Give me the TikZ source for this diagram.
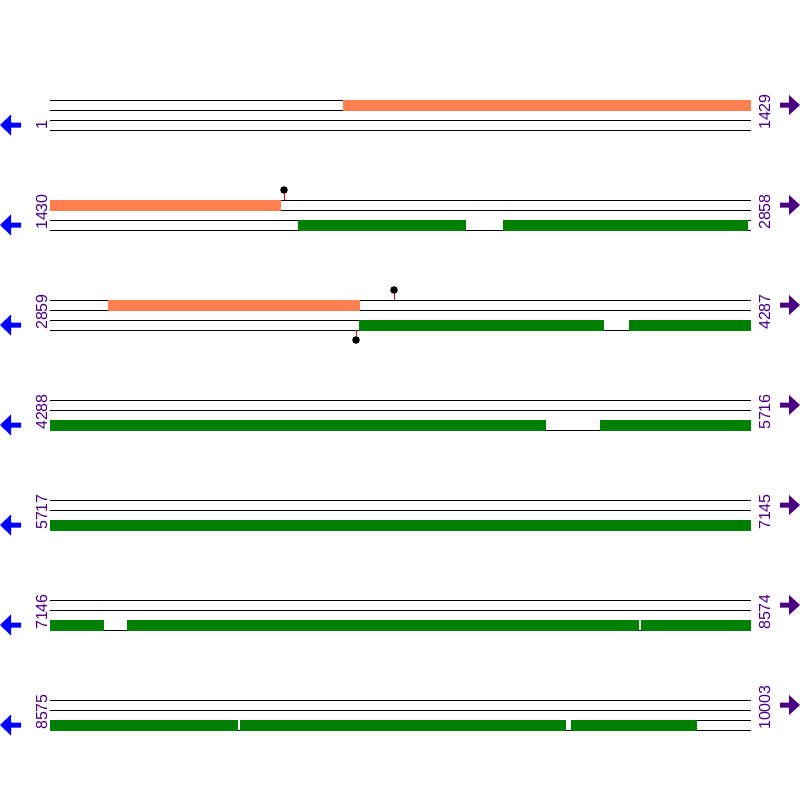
\documentclass[tikz,border=0pt]{standalone}
\usepackage{fontspec}
\setmainfont{Liberation Sans}
\definecolor{lab}{RGB}{75,0,130}
\definecolor{orng}{RGB}{255,127,80}
\definecolor{grn}{RGB}{0,128,0}
\newcommand{\gapat}[3]{%
  \fill[white] (#1,#3-10.5) rectangle (#2,#3+0.5);
  \draw[seqline] (#1,#3) -- (#2,#3);}
\begin{document}
\begin{tikzpicture}[x=1pt,y=-1pt,
  seqline/.style={black,line width=1pt},
  obar/.style={fill=orng},
  gbar/.style={fill=grn},
  lbl/.style={rotate=90,anchor=base west,inner sep=0pt,text=lab,font=\fontsize{16}{16}\selectfont},
  stem/.style={red,line width=1pt},
  pin/.style={fill=black}]
\useasboundingbox (0,0) rectangle (800,800);
\foreach \k/\l/\r in {0/1/1429,1/1430/2858,2/2859/4287,3/4288/5716,4/5717/7145,5/7146/8574,6/8575/10003}{
  \pgfmathsetmacro{\yo}{100*\k}
  \begin{scope}[yshift=-\yo pt]
    \foreach \y in {100,110,120,130} \draw[seqline] (50,\y) -- (751,\y);
    \node[lbl] (L\k) at (47,130) {\l};
    \node[lbl] (R\k) at (770,130) {\r};
    \fill[blue] (0,125) -- (11,114.5) -- (11,122.5) -- (21,122.5) -- (21,127.5) -- (11,127.5) -- (11,135.5) -- cycle;
    \fill[lab] (800,105) -- (789,95) -- (789,102.5) -- (780,102.5) -- (780,107.5) -- (789,107.5) -- (789,115) -- cycle;
  \end{scope}
}
% row 1
\fill[obar] (343,99.5) rectangle (751,110.5);
% row 2
\fill[obar] (50,199.5) rectangle (281,210.5);
\fill[gbar] (298,219.5) rectangle (748,230.5);
\gapat{466}{503}{230}
\draw[stem] (284,200) -- (284,190);
\fill[pin] (284,190) circle (3.8);
% row 3
\fill[obar] (108,299.5) rectangle (360,310.5);
\fill[gbar] (359,319.5) rectangle (751,330.5);
\gapat{604}{629}{330}
\draw[stem] (394,300) -- (394,290);
\fill[pin] (394,290) circle (3.8);
\draw[stem] (356,330) -- (356,340);
\fill[pin] (356,340) circle (3.8);
% row 4
\fill[gbar] (50,419.5) rectangle (751,430.5);
\gapat{546}{600}{430}
% row 5
\fill[gbar] (50,519.5) rectangle (751,530.5);
% row 6
\fill[gbar] (50,619.5) rectangle (751,630.5);
\gapat{104}{127}{630}
\gapat{639}{641}{630}
% row 7
\fill[gbar] (50,719.5) rectangle (697,730.5);
\gapat{238}{240}{730}
\gapat{566}{571}{730}
\end{tikzpicture}
\end{document}
